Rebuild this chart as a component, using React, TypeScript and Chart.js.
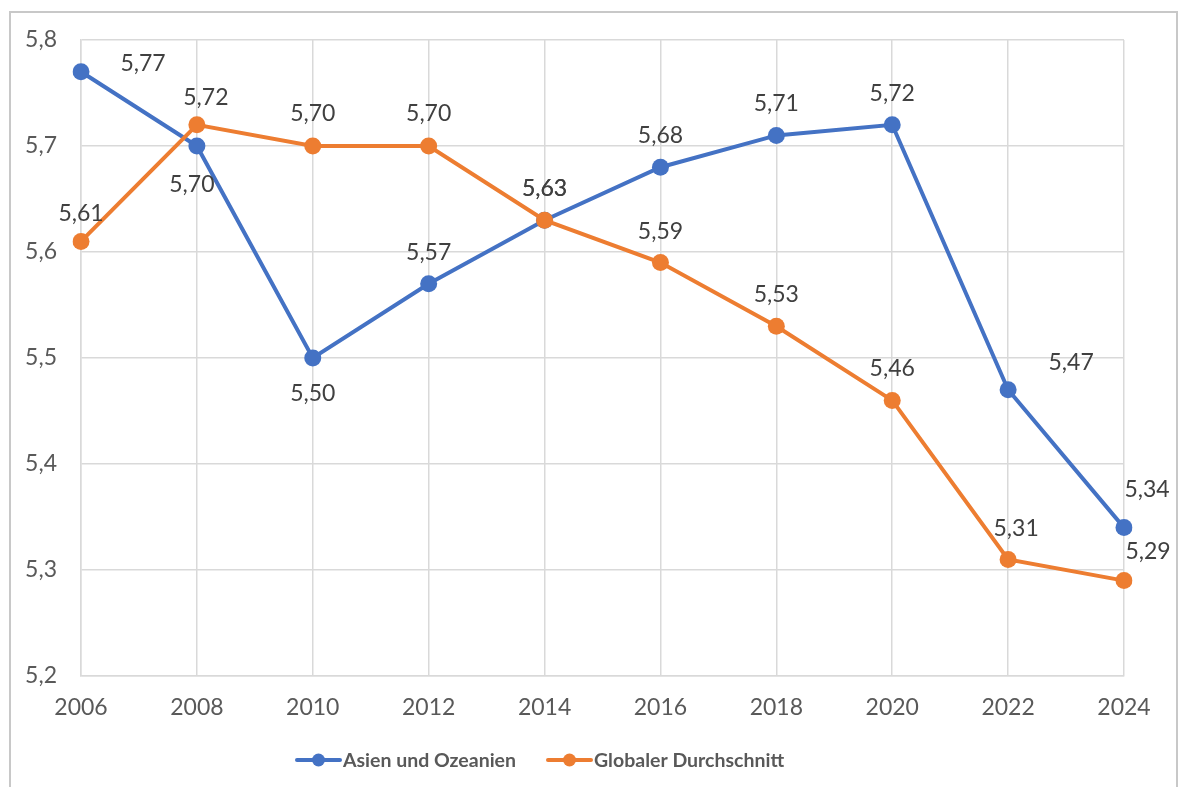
import React, { useEffect, useRef } from "react";
import { Chart, registerables } from "chart.js";

Chart.register(...registerables);

const years = ["2006", "2008", "2010", "2012", "2014", "2016", "2018", "2020", "2022", "2024"];
const asienValues = [5.77, 5.7, 5.5, 5.57, 5.63, 5.68, 5.71, 5.72, 5.47, 5.34];
const globalValues = [5.61, 5.72, 5.7, 5.7, 5.63, 5.59, 5.53, 5.46, 5.31, 5.29];
const seriesNames = ["Asien und Ozeanien", "Globaler Durchschnitt"];
const yMin = 5.2;
const yMax = 5.8;
const yStep = 0.1;

const BLUE = "#4472C4";
const ORANGE = "#ED7D31";
const GRID = "#D9D9D9";
const TICK = "#595959";
const FONT = "Lato, 'Open Sans', sans-serif";

// label offsets (dx, dy) from each point centre
const labelOffsets: number[][][] = [
  [[62, -8], [-5, 39], [0, 36], [0, -31], [0, -32], [0, -32], [0, -32], [0, -31], [63, -27], [23, -38]],
  [[0, -28], [9, -27], [0, -32], [0, -32], [0, -32], [0, -31], [0, -32], [0, -32], [8, -31], [24, -29]],
];

const fmt = (v: number, d: number) => v.toFixed(d).replace(".", ",");

const decoPlugin = {
  id: "deco",
  beforeDraw(chart: any) {
    const ctx = chart.ctx;
    ctx.save();
    ctx.fillStyle = "#ffffff";
    ctx.fillRect(0, 0, chart.width, chart.height);
    ctx.strokeStyle = "#C8C8C8";
    ctx.lineWidth = 2;
    ctx.strokeRect(10, 12, 1167, 800);
    ctx.restore();
  },
  afterDatasetsDraw(chart: any) {
    const ctx = chart.ctx;
    ctx.save();
    ctx.font = `23px ${FONT}`;
    ctx.fillStyle = "#404040";
    ctx.textAlign = "center";
    ctx.textBaseline = "middle";
    chart.data.datasets.forEach((ds: any, di: number) => {
      const meta = chart.getDatasetMeta(di);
      meta.data.forEach((pt: any, i: number) => {
        const [dx, dy] = labelOffsets[di][i];
        ctx.fillText(fmt(ds.data[i], 2), pt.x + dx, pt.y + dy);
      });
    });
    ctx.restore();
  },
  afterDraw(chart: any) {
    const ctx = chart.ctx;
    ctx.save();
    const cy = 760;
    const starts = [297, 548];
    ctx.font = `bold 19.5px ${FONT}`;
    ctx.textBaseline = "middle";
    ctx.textAlign = "left";
    chart.data.datasets.forEach((ds: any, di: number) => {
      const x0 = starts[di];
      ctx.strokeStyle = ds.borderColor;
      ctx.lineWidth = 4;
      ctx.lineCap = "round";
      ctx.beginPath();
      ctx.moveTo(x0, cy);
      ctx.lineTo(x0 + 43, cy);
      ctx.stroke();
      ctx.fillStyle = ds.borderColor;
      ctx.beginPath();
      ctx.arc(x0 + 21.5, cy, 6.5, 0, Math.PI * 2);
      ctx.fill();
      ctx.fillStyle = TICK;
      ctx.fillText(ds.label, x0 + 46, cy + 1);
    });
    ctx.restore();
  },
};

export default function App() {
  const ref = useRef<HTMLCanvasElement | null>(null);
  useEffect(() => {
    if (!ref.current) return;
    const chart = new Chart(ref.current, {
      type: "line",
      data: {
        labels: years,
        datasets: [
          {
            label: seriesNames[0],
            data: asienValues,
            borderColor: BLUE,
            backgroundColor: BLUE,
            pointBackgroundColor: BLUE,
            pointBorderColor: BLUE,
            borderWidth: 4,
            pointRadius: 8.5,
            pointBorderWidth: 0,
            tension: 0,
            order: 1,
          },
          {
            label: seriesNames[1],
            data: globalValues,
            borderColor: ORANGE,
            backgroundColor: ORANGE,
            pointBackgroundColor: ORANGE,
            pointBorderColor: ORANGE,
            borderWidth: 4,
            pointRadius: 8.5,
            pointBorderWidth: 0,
            tension: 0,
            order: 0,
          },
        ],
      },
      options: {
        responsive: false,
        animation: false,
        devicePixelRatio: 1,
        layout: { padding: { left: 0, top: 40, right: 55, bottom: 0 } },
        plugins: {
          legend: { display: false },
          tooltip: { enabled: false },
        },
        scales: {
          x: {
            type: "category",
            offset: false,
            grid: { color: GRID, lineWidth: 1.5, drawTicks: false, offset: false },
            border: { color: GRID, width: 1.5 },
            ticks: { color: TICK, font: { family: FONT, size: 23 }, padding: 18, maxRotation: 0 },
            afterFit: (s: any) => {
              s.height = 111;
            },
          },
          y: {
            min: yMin,
            max: yMax,
            grid: { color: GRID, lineWidth: 1.5, drawTicks: false },
            border: { color: GRID, width: 1.5 },
            ticks: {
              stepSize: yStep,
              color: TICK,
              font: { family: FONT, size: 23 },
              padding: 24,
              callback: (v: any) => fmt(Number(v), 1),
            },
            afterFit: (s: any) => {
              s.width = 81;
            },
          },
        },
      },
      plugins: [decoPlugin],
    });
    return () => chart.destroy();
  }, []);
  return (
    <div style={{ position: "absolute", left: 0, top: 0, width: 1179, height: 787 }}>
      <canvas ref={ref} width={1179} height={787} style={{ width: 1179, height: 787 }} />
    </div>
  );
}
